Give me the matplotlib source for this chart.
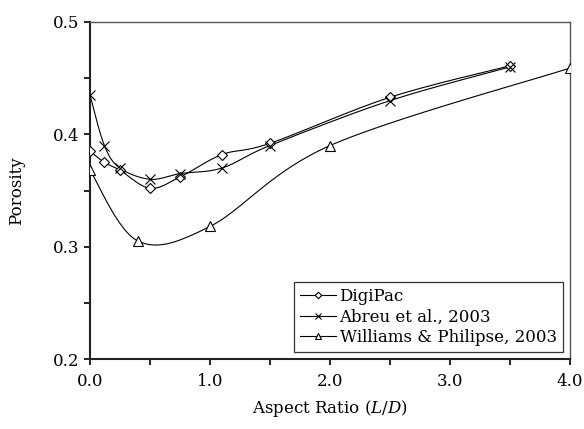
import numpy as np
import matplotlib
matplotlib.use('Agg')
import matplotlib.pyplot as plt
from matplotlib.ticker import MultipleLocator, FormatStrFormatter

plt.rcParams['font.family'] = ['DejaVu Serif']
plt.rcParams['mathtext.fontset'] = 'dejavuserif'

# data
digipac_x = [0.0, 0.12, 0.25, 0.5, 0.75, 1.1, 1.5, 2.5, 3.5]
digipac_y = [0.385, 0.375, 0.368, 0.352, 0.362, 0.382, 0.392, 0.433, 0.461]
abreu_x = [0.0, 0.12, 0.25, 0.5, 0.75, 1.1, 1.5, 2.5, 3.5]
abreu_y = [0.435, 0.390, 0.370, 0.360, 0.365, 0.370, 0.390, 0.430, 0.460]
williams_x = [0.0, 0.4, 1.0, 2.0, 4.0]
williams_y = [0.368, 0.305, 0.318, 0.390, 0.459]


def smooth(x, y, n=30):
    # excel-like smoothed line (bezier through the points)
    p = np.column_stack([x, y]).astype(float)
    pts = [p[0]]
    for i in range(len(p) - 1):
        p0 = p[i - 1] if i > 0 else p[i]
        p3 = p[i + 2] if i + 2 < len(p) else p[i + 1]
        c1 = p[i] + (p[i + 1] - p0) / 6
        c2 = p[i + 1] - (p3 - p[i]) / 6
        t = np.linspace(0, 1, n)[1:, None]
        seg = ((1 - t) ** 3 * p[i] + 3 * (1 - t) ** 2 * t * c1
               + 3 * (1 - t) * t ** 2 * c2 + t ** 3 * p[i + 1])
        pts.extend(seg)
    pts = np.array(pts)
    return pts[:, 0], pts[:, 1]


fig = plt.figure(figsize=(5.84, 4.29), dpi=100)
ax = fig.add_axes([90 / 584, 1 - 359 / 429, 480 / 584, 337 / 429])

series = [
    (digipac_x, digipac_y, 'D', 5.5, 'DigiPac'),
    (abreu_x, abreu_y, 'x', 6.5, 'Abreu et al., 2003'),
    (williams_x, williams_y, '^', 6.5, 'Williams & Philipse, 2003'),
]
for xs, ys, m, ms, lab in series:
    sx, sy = smooth(xs, ys)
    ax.plot(sx, sy, color='black', lw=0.8, zorder=2)
    ax.plot(xs, ys, ls='none', marker=m, ms=ms, mfc='white', mec='black',
            mew=0.8, zorder=3)
    ax.plot([], [], color='black', lw=0.8, marker=m, ms=ms * 0.6,
            mfc='white', mec='black', mew=0.8, label=lab)

ax.set_xlim(0, 4.0)
ax.set_ylim(0.2, 0.5)
ax.xaxis.set_major_locator(MultipleLocator(1.0))
ax.xaxis.set_minor_locator(MultipleLocator(0.5))
ax.yaxis.set_major_locator(MultipleLocator(0.1))
ax.yaxis.set_minor_locator(MultipleLocator(0.05))
ax.xaxis.set_major_formatter(FormatStrFormatter('%.1f'))
ax.yaxis.set_major_formatter(FormatStrFormatter('%.1f'))
ax.tick_params(which='both', direction='out', length=4, width=1.2,
               labelsize=12, colors='black')
ax.tick_params(axis='x', pad=6)

for s in ['left', 'bottom']:
    ax.spines[s].set_linewidth(1.5)
    ax.spines[s].set_color('#222222')
for s in ['top', 'right']:
    ax.spines[s].set_linewidth(1.0)
    ax.spines[s].set_color('#555555')

ax.set_xlabel('Aspect Ratio ($L/D$)', fontsize=12, labelpad=6)
ax.set_ylabel('Porosity', fontsize=12, labelpad=20)

leg = ax.legend(loc='lower right', fontsize=12, frameon=True, fancybox=False,
                edgecolor='black', handlelength=2.2, handletextpad=0.2,
                borderpad=0.35, labelspacing=0.2, borderaxespad=0.45)
leg.get_frame().set_linewidth(0.9)

fig.savefig('out.png', dpi=100)
